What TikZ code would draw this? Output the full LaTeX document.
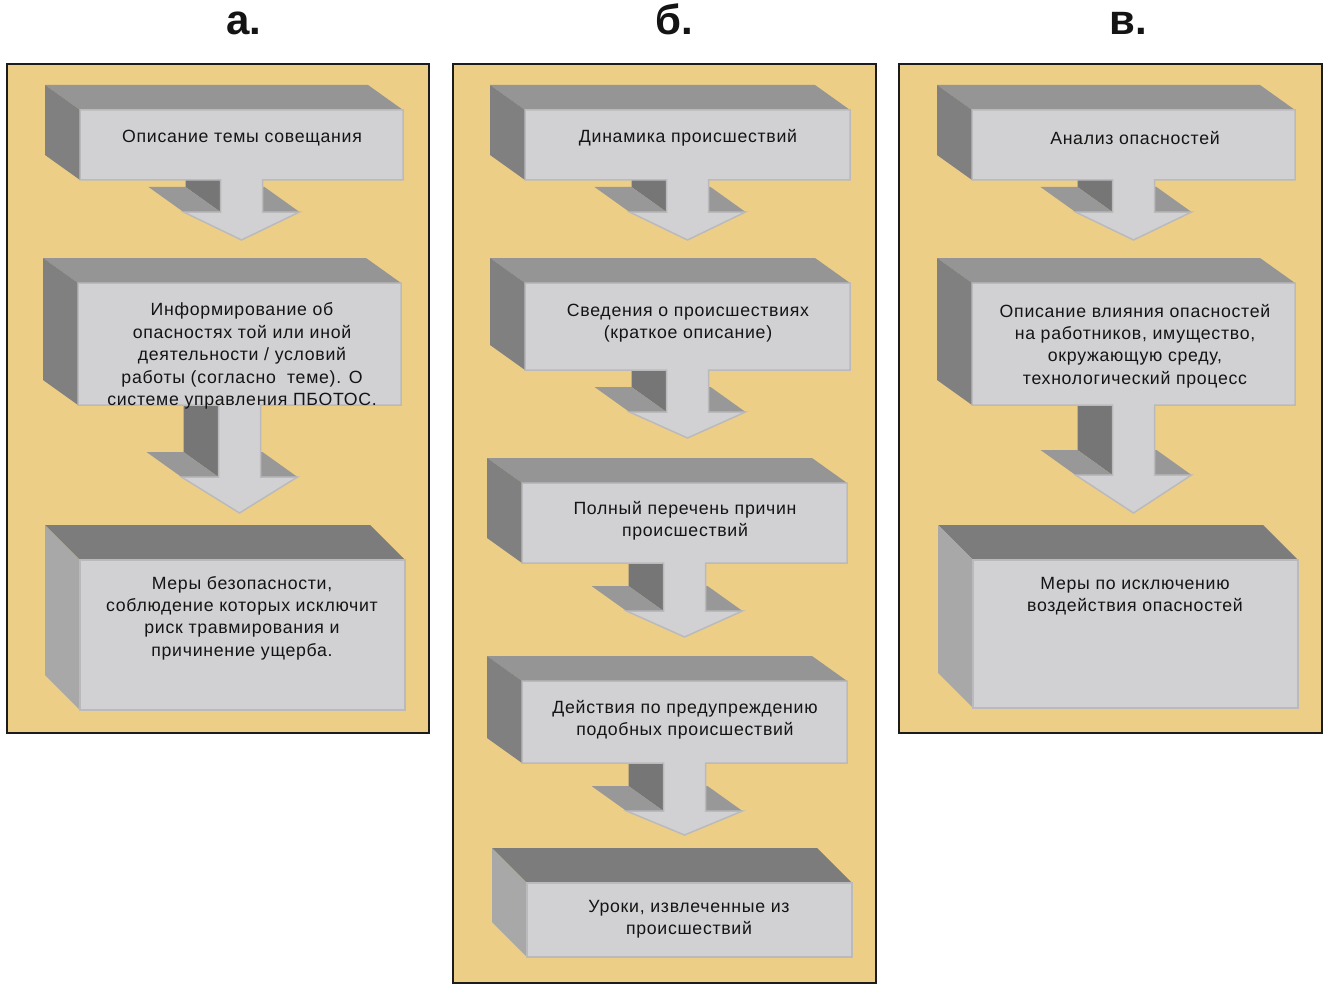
\documentclass[tikz,border=0pt]{standalone}
\usepackage{fontspec}
\setmainfont{Liberation Sans}
\newfontfamily\boxfont[LetterSpace=4]{Liberation Sans}
\definecolor{panel}{RGB}{236,206,135}
\definecolor{framecol}{RGB}{28,28,28}
\definecolor{textcol}{RGB}{20,20,20}
\definecolor{facefront}{RGB}{209,208,211}
\definecolor{frontedge}{RGB}{186,186,189}
\definecolor{facetop}{RGB}{148,149,148}
\definecolor{faceleft}{RGB}{128,128,128}
\definecolor{facestem}{RGB}{118,118,118}
\definecolor{facewing}{RGB}{152,152,152}
\definecolor{flattop}{RGB}{124,124,124}
\definecolor{flatleft}{RGB}{168,168,168}
% x0,y0,x1,y1 = front face, #5 = head line, #6 = tip
\newcommand{\calloutbox}[6]{%
  \pgfmathsetmacro{\midx}{(#1+#3)/2}
  \fill[facetop] (#1,#2) -- (#3,#2) -- (#3-35,#2-25) -- (#1-35,#2-25) -- cycle;
  \fill[faceleft] (#1,#2) -- (#1,#4) -- (#1-35,#4-25) -- (#1-35,#2-25) -- cycle;
  \fill[facestem] (\midx-21,#4) -- (\midx-21,#5) -- (\midx-56,#5-25) -- (\midx-56,#4-25) -- cycle;
  \fill[facewing] (\midx-58,#5) -- (\midx-21,#5) -- (\midx-56,#5-25) -- (\midx-93,#5-25) -- cycle;
  \fill[facewing] (\midx+21,#5) -- (\midx+58,#5) -- (\midx+23,#5-25) -- (\midx-14,#5-25) -- cycle;
  \draw[fill=facefront,draw=frontedge,line width=1.5pt,line join=miter]
    (#1,#2) -- (#3,#2) -- (#3,#4) -- (\midx+21,#4) -- (\midx+21,#5) -- (\midx+58,#5)
    -- (\midx,#6) -- (\midx-58,#5) -- (\midx-21,#5) -- (\midx-21,#4) -- (#1,#4) -- cycle;
}
\newcommand{\flatbox}[4]{%
  \fill[flattop] (#1,#2) -- (#3,#2) -- (#3-35,#2-35) -- (#1-35,#2-35) -- cycle;
  \fill[flatleft] (#1,#2) -- (#1,#4) -- (#1-35,#4-35) -- (#1-35,#2-35) -- cycle;
  \draw[fill=facefront,draw=frontedge,line width=1.5pt] (#1,#2) rectangle (#3,#4);
}
\begin{document}
\begin{tikzpicture}[x=1pt,y=-1pt,
    panelbox/.style={fill=panel,draw=framecol,line width=2pt},
    txt/.style={font=\boxfont\fontsize{17.7pt}{22.4pt}\selectfont,text=textcol,align=center,inner sep=0pt},
    ttl/.style={font=\bfseries\fontsize{42pt}{42pt}\selectfont,text=textcol,anchor=base}]
\useasboundingbox (0,0) rectangle (1327,987);
\fill[white] (0,0) rectangle (1327,987);
% panels
\draw[panelbox] (7,64) rectangle (429,733);
\draw[panelbox] (453,64) rectangle (876,983);
\draw[panelbox] (899,64) rectangle (1322,733);
\node[ttl] (ta) at (244,35) {а.};
\node[ttl] (tb) at (674,35) {б.};
\node[ttl] (tv) at (1128,35) {в.};
% column a
\calloutbox{80}{110}{403}{180}{212}{240}
\calloutbox{78}{283}{401}{405}{477}{513}
\flatbox{80}{560}{405}{710}
\node[txt] (a1) at (242,138) {Описание темы совещания};
\node[txt] (a2) at (242,356) {Информирование об\\опасностях той или иной\\деятельности / условий\\работы (согласно~ теме). О\\системе управления ПБОТОС.};
\node[txt] (a3) at (242,618) {Меры безопасности,\\соблюдение которых исключит\\риск травмирования и\\причинение ущерба.};
% column b
\calloutbox{525}{110}{850}{180}{212}{240}
\calloutbox{525}{283}{850}{370}{412}{438}
\calloutbox{522}{483}{847}{563}{611}{637}
\calloutbox{522}{681}{847}{763}{811}{835}
\flatbox{527}{883}{852}{957}
\node[txt] (b1) at (688,138) {Динамика происшествий};
\node[txt] (b2) at (688,323) {Сведения о происшествиях\\(краткое описание)};
\node[txt] (b3) at (685,521) {Полный перечень причин\\происшествий};
\node[txt] (b4) at (685,720) {Действия по предупреждению\\подобных происшествий};
\node[txt] (b5) at (689,919) {Уроки, извлеченные из\\происшествий};
% column v
\calloutbox{972}{110}{1295}{180}{212}{240}
\calloutbox{972}{283}{1295}{405}{475}{513}
\flatbox{973}{560}{1298}{708}
\node[txt] (v1) at (1135,138) {Анализ опасностей};
\node[txt] (v2) at (1135,346) {Описание влияния опасностей\\на работников, имущество,\\окружающую среду,\\технологический процесс};
\node[txt] (v3) at (1135,596) {Меры по исключению\\воздействия опасностей};
\end{tikzpicture}
\end{document}
